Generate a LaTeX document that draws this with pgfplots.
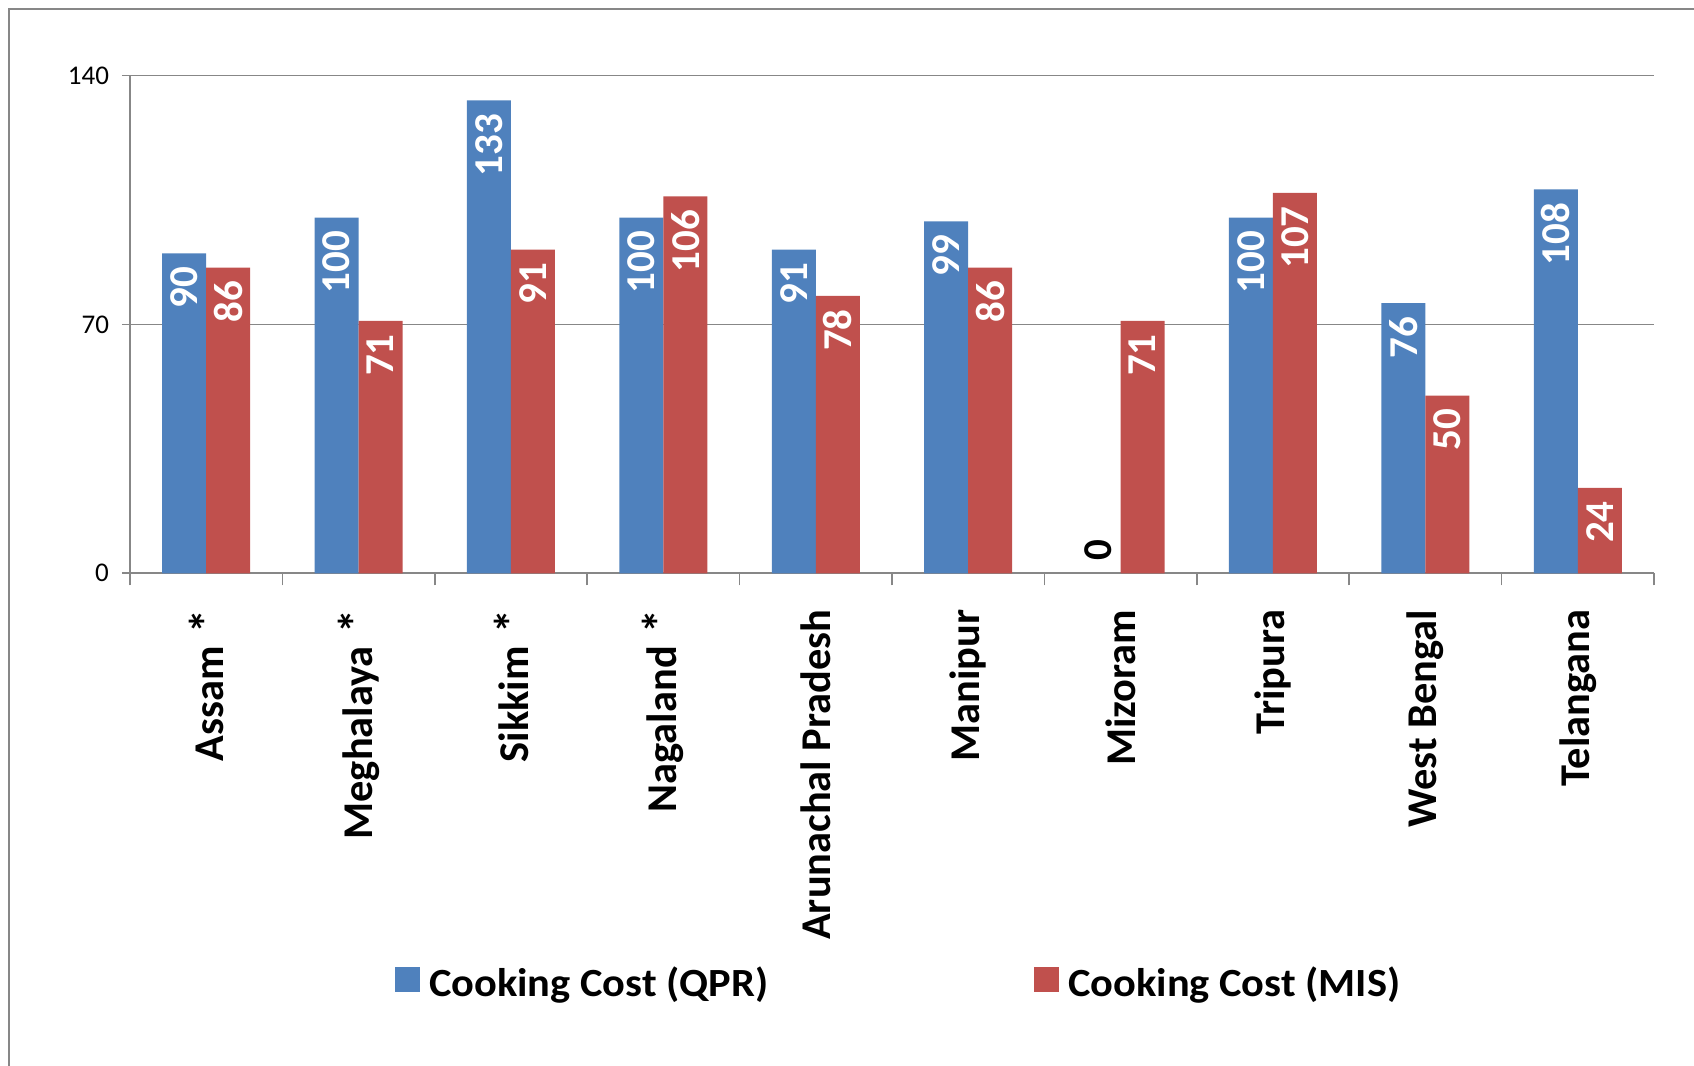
\documentclass[border=0pt]{standalone}
\usepackage{pgfplots}
\pgfplotsset{compat=1.18}
\usepackage{graphicx}
\usepackage{fontspec}
\setmainfont{Carlito}
\definecolor{qpr}{HTML}{4F81BD}
\definecolor{mis}{HTML}{C0504D}
\definecolor{axgray}{HTML}{878787}
\newcommand{\starmark}{\hspace{0.3em}{\fontsize{24}{24}\selectfont *}}
\begin{document}
\begin{tikzpicture}
\useasboundingbox (0,0) rectangle (847pt,533pt);
\draw[axgray, line width=0.8pt] (4.5pt,0) -- (4.5pt,528.5pt) -- (847pt,528.5pt);
\begin{axis}[
  at={(65pt,246.35pt)}, anchor=south west,
  scale only axis, width=762pt, height=248.9pt,
  xmin=-0.5, xmax=9.5, ymin=0, ymax=140,
  axis lines*=left,
  axis line style={axgray, line width=0.8pt},
  ymajorgrids, grid style={axgray, line width=0.8pt},
  ytick={0,70,140},
  tick align=outside,
  tick style={axgray, line width=0.8pt},
  major tick length=4pt,
  minor tick length=6pt,
  xtick={0,...,9},
  major x tick style={draw=none},
  minor xtick={-0.5,0.5,...,9.5},
  xticklabels={Assam\starmark, Meghalaya\starmark, Sikkim\starmark, Nagaland\starmark, Arunachal Pradesh, Manipur, Mizoram, Tripura, West Bengal, Telangana},
  xticklabel style={rotate=90, anchor=east, font=\bfseries\fontsize{21.2}{24}\selectfont, inner xsep=14pt},
  yticklabel style={font=\fontsize{13.5}{16}\selectfont, text=black, xshift=-3pt},
  /pgf/number format/assume math mode=true,
  ybar, bar width=22pt,
  nodes near coords,
  nodes near coords style={rotate=90, anchor=east, font=\bfseries\fontsize{20.5}{22}\selectfont, text=white, inner xsep=6.5pt},
  legend style={at={(0.505,-0.8236)}, anchor=center, draw=none, fill=none, legend columns=2,
    /tikz/every even column/.append style={column sep=131pt},
    font=\bfseries\fontsize{20}{24}\selectfont},
  legend image code/.code={\fill[#1, draw=none] (0pt,-4.5pt) rectangle (12.5pt,8pt); \path (15pt,0pt);},
]
\addplot[fill=qpr, draw=none, bar shift=-11pt] coordinates {(0,90) (1,100) (2,133) (3,100) (4,91) (5,99) (7,100) (8,76) (9,108)};
\addlegendentry{\scalebox{1.06}[1]{Cooking Cost (QPR)}}
\addplot[fill=mis, draw=none, bar shift=11pt] coordinates {(0,86) (1,71) (2,91) (3,106) (4,78) (5,86) (6,71) (7,107) (8,50) (9,24)};
\addlegendentry{\scalebox{1.06}[1]{Cooking Cost (MIS)}}
\addplot[forget plot, fill=none, draw=none, bar shift=-11pt,
  every node near coord/.append style={anchor=west, text=black, inner xsep=6pt}] coordinates {(6,0)};
\end{axis}
\end{tikzpicture}
\end{document}
